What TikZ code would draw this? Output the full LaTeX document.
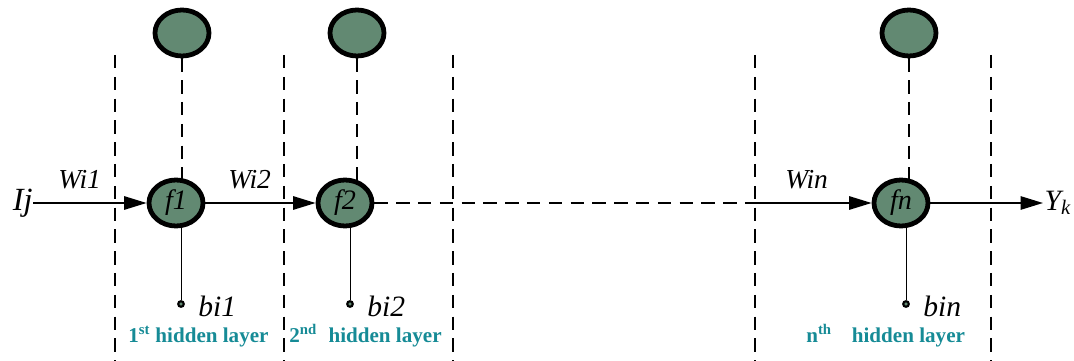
\documentclass[tikz,border=0pt]{standalone}
\usepackage{fontspec}
\setmainfont{Liberation Serif}
\newfontfamily\timesfont{Liberation Serif}
\usetikzlibrary{arrows.meta,positioning,shapes.geometric,backgrounds}

\definecolor{neurongreen}{RGB}{98,137,114}
\definecolor{layerteal}{RGB}{22,139,150}

\tikzset{
  neuron/.style={ellipse, draw=black, line width=3.4pt, fill=neurongreen,
    minimum width=1.35cm, minimum height=1.15cm, inner sep=0pt,
    font=\timesfont\fontsize{20}{22}\selectfont\itshape},
  biasdot/.style={circle, draw=black, line width=1.5pt, fill=neurongreen,
    minimum size=0.14cm, inner sep=0pt},
  divider/.style={dash pattern=on 9.5pt off 6pt, line width=1.4pt},
  link/.style={line width=1.3pt, -{Triangle[length=16pt,width=9.5pt]}},
  wlabel/.style={anchor=base west, inner sep=0pt,
    font=\timesfont\fontsize{19.5}{21}\selectfont\itshape},
  biaslabel/.style={anchor=base west, inner sep=0pt,
    font=\timesfont\fontsize{21}{23}\selectfont\itshape},
  layerlabel/.style={anchor=base west, inner sep=0pt, text=layerteal,
    font=\timesfont\fontsize{15}{17}\selectfont\bfseries}
}

\begin{document}
\begin{tikzpicture}[x=0.025cm, y=-0.025cm]
\useasboundingbox (0,0) rectangle (1074,361);

% Layer dividers
\foreach \x in {115,284,453,755,991}
  \draw[divider] (\x,55) -- (\x,361);

% Hidden neurons
\node[neuron] (f1) at (176,203) {f1};
\node[neuron] (f2) at (345,203) {f2};
\node[neuron] (fn) at (901,203) {fn};

% Neurons above each layer
\node[neuron] (t1) at (182,33) {};
\node[neuron] (t2) at (357,33) {};
\node[neuron] (tn) at (909,33) {};

% Bias inputs
\node[biasdot] (b1) at (181,304) {};
\node[biasdot] (b2) at (350,304) {};
\node[biasdot] (bn) at (906,304) {};
\node[biaslabel] at (198,316) {bi1};
\node[biaslabel] at (367,316) {bi2};
\node[biaslabel] at (923,316) {bin};

% Vertical links (behind the neurons)
\begin{scope}[on background layer]
\draw[divider] (t1) -- (t1 |- f1);
\draw[divider] (t2) -- (t2 |- f2);
\draw[divider] (tn) -- (tn |- fn);
\draw[line width=0.7pt] (b1) -- (b1 |- f1);
\draw[line width=0.7pt] (b2) -- (b2 |- f2);
\draw[line width=0.7pt] (bn) -- (bn |- fn);
\end{scope}

% Input, weights and output
\node[wlabel, anchor=base east, font=\timesfont\fontsize{23}{25}\selectfont\itshape] (ij) at (33,210) {Ij};
\draw[link] (ij.east |- f1) -- (f1);
\draw[link] (f1) -- (f2);
\coordinate (gap) at (755,203);
\draw[divider] (f2) -- (gap);
\draw[link] (gap) -- (fn);
\coordinate (out) at (1043,203);
\draw[link] (fn) -- (out);
\node[anchor=west, inner sep=1pt, font=\timesfont\fontsize{21}{23}\selectfont\itshape] (yk) at (out) {Y\textsubscript{k}};

\node[wlabel] (w1) at (58,189) {Wi1};
\node[wlabel] (w2) at (228,189) {Wi2};
\node[wlabel] (wn) at (785,189) {Win};

% Layer names
\node[layerlabel] (l1) at (128,342) {1\textsuperscript{st} hidden layer};
\node[layerlabel] (l2) at (289,342) {2\textsuperscript{nd}\hspace{0.3em} hidden layer};
\node[layerlabel] (ln) at (806,342) {n\textsuperscript{th}\hspace{0.7em} hidden layer};
\end{tikzpicture}
\end{document}
